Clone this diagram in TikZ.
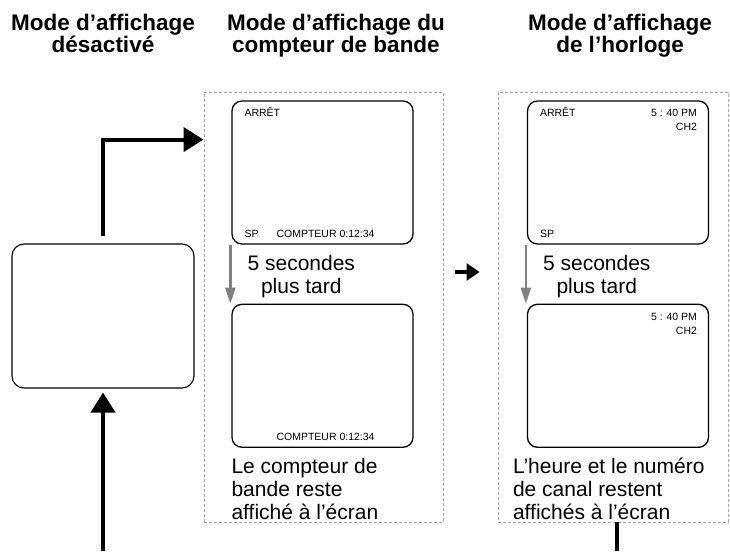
\documentclass[tikz,border=0pt]{standalone}
\usepackage{fontspec}
\setmainfont{Liberation Sans}
\usetikzlibrary{arrows.meta, positioning}
\tikzset{
  title/.style  = {font=\bfseries\fontsize{22.5}{22}\selectfont, align=center,
                   inner sep=0pt},
  screen/.style = {draw, line width=1.3pt, rounded corners=10pt,
                   minimum width=181pt, minimum height=143pt, inner sep=0pt},
  blank/.style  = {screen, line width=1.1pt, rounded corners=12pt,
                   minimum width=182pt, minimum height=144pt},
  group/.style  = {draw=gray!70, line width=0.9pt, dash pattern=on 3pt off 2pt,
                   inner sep=0pt},
  osd/.style    = {font=\fontsize{10.5}{14}\selectfont, inner sep=0pt},
  note/.style   = {font=\fontsize{21}{23}\selectfont, align=left, inner sep=0pt},
  delay/.style  = {note, align=center},
  jump/.style   = {-{Triangle[length=20pt, width=24pt]}, line width=4pt},
  hop/.style    = {-{Triangle[length=13pt, width=17pt]}, line width=3.5pt},
  later/.style  = {-{Triangle[length=16pt, width=10pt]}, draw=gray,
                   line width=2.5pt},
  % the way back to the first mode leaves the page
  wrap/.style   = {line width=4pt},
}
\begin{document}
\begin{tikzpicture}[x=1pt, y=-1pt]
  \useasboundingbox (0,0) rectangle (730,551);

  %% ---------------- titles ----------------
  \node[title, anchor=north] (ttloff) at (103,13.5) {Mode d’affichage\\désactivé};
  \node[title, anchor=north] (ttlcnt) at (336,13.5) {Mode d’affichage du\\compteur de bande};
  \node[title, anchor=north] (ttlclk) at (620,13.5) {Mode d’affichage\\de l’horloge};

  %% ---------------- display off ----------------
  \node[blank] (off) at (103,316) {};

  %% ---------------- tape counter ----------------
  \node[group, minimum width=239pt, minimum height=430pt] (grpcnt) at (323.5,307) {};
  \node[screen] (cnt1) at (322.5,172.5) {};
  \node[screen, below=59pt of cnt1] (cnt2) {};

  \node[osd, anchor=base west] at ([xshift=13pt, yshift=-16pt]cnt1.north west) {ARRÊT};
  \node[osd, anchor=base west] at ([xshift=13pt, yshift=7pt]cnt1.south west) {SP};
  \node[osd, anchor=base west] at ([xshift=45pt, yshift=7pt]cnt1.south west) {COMPTEUR 0:12:34};
  \node[osd, anchor=base west] at ([xshift=45pt, yshift=7pt]cnt2.south west) {COMPTEUR 0:12:34};

  \draw[later] ([xshift=-1pt]cnt1.south west) --
       node[delay, right=16pt, yshift=-2pt] {5 secondes\\plus tard}
       ([xshift=-1pt]cnt2.north west);
  \node[note, below right=10pt and 0pt of cnt2.south west] (notecnt)
       {Le compteur de\\bande reste\\affiché à l’écran};

  %% ---------------- clock ----------------
  \node[group, minimum width=230pt, minimum height=430pt] (grpclk) at (613,307) {};
  \node[screen] (clk1) at (618,172.5) {};
  \node[screen, below=59pt of clk1] (clk2) {};

  \node[osd, anchor=base west] at ([xshift=13pt, yshift=-16pt]clk1.north west) {ARRÊT};
  \node[osd, anchor=base east] (time1) at ([xshift=-12pt, yshift=-16pt]clk1.north east) {5 : 40 PM};
  \node[osd, anchor=base east] at ([yshift=-14pt]time1.base east) {CH2};
  \node[osd, anchor=base west] at ([xshift=13pt, yshift=7pt]clk1.south west) {SP};
  \node[osd, anchor=base east] (time2) at ([xshift=-12pt, yshift=-16.5pt]clk2.north east) {5 : 40 PM};
  \node[osd, anchor=base east] at ([yshift=-14pt]time2.base east) {CH2};

  \draw[later] ([xshift=-1pt]clk1.south west) --
       node[delay, right=16pt, yshift=-2pt] {5 secondes\\plus tard}
       ([xshift=-1pt]clk2.north west);
  \node[note, below right=10pt and -14pt of clk2.south west] (noteclk)
       {L’heure et le numéro\\de canal restent\\affichés à l’écran};

  %% ---------------- flows ----------------
  \draw[jump] ([yshift=7pt]off.north) |- ([yshift=-48pt]grpcnt.north west);
  \draw[hop] ([xshift=12pt, yshift=35pt]grpcnt.east) -- ([xshift=-18pt, yshift=35pt]grpclk.west);

  \coordinate (loopout) at (617,551);
  \coordinate (loopin) at (103,551);
  \draw[wrap] (grpclk.south -| loopout) -- (loopout);
  \draw[jump] (loopin) -- ([yshift=-4pt]off.south);

\end{tikzpicture}
\end{document}
